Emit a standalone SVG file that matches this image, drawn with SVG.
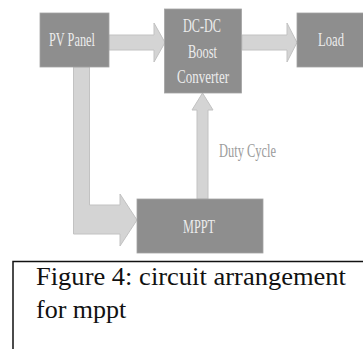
<svg xmlns="http://www.w3.org/2000/svg" width="363" height="349" viewBox="0 0 363 349">
<style>
.box{fill:#8e8e8e;stroke:#a4a4a4;stroke-width:0.8}
.arr{fill:#d4d4d4;stroke:#c2c2c2;stroke-width:1}
.lbl{font-family:'Liberation Serif','Times New Roman',serif;font-size:19px;fill:#ececec}
.duty{font-family:'Liberation Serif','Times New Roman',serif;font-size:18px;fill:#9c9c9c}
.cap{font-family:'Liberation Serif','Times New Roman',serif;font-size:26px;fill:#111}
</style>
<rect width="363" height="349" fill="#ffffff"/>
<g id="connectors">
<path class="arr" d="M109 35 L154 35 L154 23 L165 42.5 L154 62 L154 50 L109 50 Z"/>
<path class="arr" d="M242 35 L287 35 L287 23 L297 42.5 L287 62 L287 50 L242 50 Z"/>
<path class="arr" d="M73.5 67 L89.5 67 L89.5 205 L120 205 L120 194 L137 220 L120 246 L120 234 L73.5 234 Z"/>
<path class="arr" d="M197 199 L197 110 L192 110 L202.5 93 L213 110 L208 110 L208 199 Z"/>
<text class="duty" x="219" y="157" textLength="57" lengthAdjust="spacingAndGlyphs">Duty Cycle</text>
</g>
<g id="pv">
<rect class="box" x="40" y="13" width="69" height="54"/>
<text class="lbl" x="49" y="46" textLength="46" lengthAdjust="spacingAndGlyphs">PV Panel</text>
</g>
<g id="dcdc">
<rect class="box" x="164.5" y="9" width="77" height="84"/>
<text class="lbl" x="183" y="32" textLength="38" lengthAdjust="spacingAndGlyphs">DC-DC</text>
<text class="lbl" x="188" y="58" textLength="29" lengthAdjust="spacingAndGlyphs">Boost</text>
<text class="lbl" x="177" y="83" textLength="52" lengthAdjust="spacingAndGlyphs">Converter</text>
</g>
<g id="load">
<rect class="box" x="297" y="13" width="67" height="54"/>
<text class="lbl" x="318" y="46" textLength="26" lengthAdjust="spacingAndGlyphs">Load</text>
</g>
<g id="mppt">
<rect class="box" x="137" y="199" width="126" height="54"/>
<text class="lbl" x="183" y="233" textLength="32" lengthAdjust="spacingAndGlyphs">MPPT</text>
</g>
<g id="caption">
<path d="M13 349 L13 261.5 L363 261.5" fill="none" stroke="#111" stroke-width="1.5"/>
<text class="cap" x="36" y="285" textLength="310" lengthAdjust="spacingAndGlyphs">Figure 4: circuit arrangement</text>
<text class="cap" x="36" y="318">for mppt</text>
</g>
</svg>
